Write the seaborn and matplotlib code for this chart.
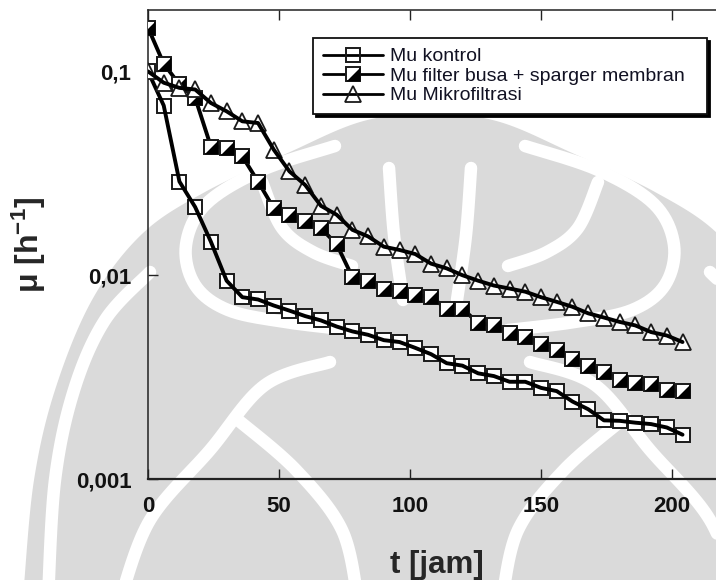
import numpy as np
import pandas as pd
import matplotlib
matplotlib.use("Agg")
import matplotlib.pyplot as plt
import matplotlib.ticker as mticker
from matplotlib.lines import Line2D
from matplotlib.legend_handler import HandlerTuple
from matplotlib.patches import Polygon
from matplotlib.transforms import Affine2D
import seaborn as sns

# Sampling times (hours)
t_jam = [0, 6, 12, 18, 24, 30, 36, 42, 48, 54, 60, 66, 72, 78, 84, 90, 96,
         102, 108, 114, 120, 126, 132, 138, 144, 150, 156, 162, 168, 174,
         180, 186, 192, 198, 204]

# Specific growth rate mu [1/h]
mu_kontrol = [0.100, 0.068, 0.0288, 0.0216, 0.0146, 0.0094, 0.0078, 0.0076,
              0.0071, 0.0067, 0.0063, 0.0060, 0.0056, 0.0053, 0.0051, 0.0048,
              0.0047, 0.0044, 0.0041, 0.0037, 0.0036, 0.0033, 0.0032, 0.0030,
              0.0030, 0.0028, 0.0027, 0.0024, 0.0022, 0.00194, 0.00193,
              0.00189, 0.00186, 0.00179, 0.00165]
mu_filter = [0.164, 0.109, 0.0863, 0.0742, 0.0428, 0.0421, 0.0383, 0.0288,
             0.0213, 0.0198, 0.0185, 0.0170, 0.0142, 0.0098, 0.0094, 0.0086,
             0.0084, 0.0080, 0.0078, 0.00686, 0.00686, 0.00582, 0.00567,
             0.0052, 0.00497, 0.00461, 0.0043, 0.00389, 0.0036, 0.00334,
             0.00306, 0.00295, 0.00293, 0.00273, 0.00271]
mu_mikro = [0.100, 0.088, 0.083, 0.0815, 0.070, 0.0637, 0.0569, 0.0558,
            0.0413, 0.0323, 0.0277, 0.0219, 0.0198, 0.0167, 0.0155, 0.0138,
            0.0133, 0.0127, 0.0114, 0.0108, 0.0100, 0.0094, 0.0089, 0.0086,
            0.0083, 0.0078, 0.0074, 0.0070, 0.0065, 0.0062, 0.0059, 0.00567,
            0.00526, 0.00506, 0.0047]

labels = ["Mu kontrol", "Mu filter busa + sparger membran", "Mu Mikrofiltrasi"]
y_ticks = [0.001, 0.01, 0.1]
x_ticks = [0, 50, 100, 150, 200]

df = pd.DataFrame({"t": t_jam, "kontrol": mu_kontrol,
                   "filter": mu_filter, "mikro": mu_mikro})

sns.set_theme(style="ticks")
plt.rcParams["font.family"] = ["Liberation Sans", "DejaVu Sans"]
plt.rcParams["mathtext.fontset"] = "custom"
plt.rcParams["mathtext.rm"] = "Liberation Sans:bold"
plt.rcParams["mathtext.it"] = "Liberation Sans:bold"
plt.rcParams["mathtext.bf"] = "Liberation Sans:bold"

W, H = 716, 580
fig = plt.figure(figsize=(W / 100, H / 100), dpi=100)
fig.patch.set_facecolor("white")

# ---- faint emblem in the page background (pixel coordinates, y down) ----
px = Affine2D().scale(1 / W, -1 / H).translate(0, 1) + fig.transFigure
WM_GRAY = "#dadada"
MID = 430


def smooth(pts, n=20):
    """Catmull-Rom curve through the given control points."""
    p = np.asarray(pts, float)
    p = np.vstack([p[0], p, p[-1]])
    out = []
    for i in range(1, len(p) - 2):
        p0, p1, p2, p3 = p[i - 1], p[i], p[i + 1], p[i + 2]
        for s in np.linspace(0, 1, n, endpoint=False):
            out.append(0.5 * ((2 * p1) + (-p0 + p2) * s
                              + (2 * p0 - 5 * p1 + 4 * p2 - p3) * s ** 2
                              + (-p0 + 3 * p1 - 3 * p2 + p3) * s ** 3))
    out.append(p[-2])
    return np.array(out)


def mirror(pts):
    return [(2 * MID - x, y) for x, y in pts]


dome_left = [(MID, 110), (360, 122), (290, 152), (205, 192), (142, 234),
             (92, 300), (55, 390), (34, 480), (24, 585)]
dome = np.vstack([smooth(dome_left[::-1]), smooth(mirror(dome_left))])
dome = np.vstack([dome, [(2 * MID - 24, 620), (24, 620)]])
fig.add_artist(Polygon(dome, closed=True, transform=px, facecolor=WM_GRAY,
                       edgecolor="none", zorder=-2))

white_bands = [
    [(150, 272), (105, 320), (74, 390), (55, 480), (48, 600)],
    [(335, 146), (262, 170), (206, 204), (186, 245), (195, 285),
     (228, 310), (285, 322), (352, 330)],
    [(262, 182), (282, 228), (313, 252), (352, 266)],
    [(389, 168), (394, 235), (403, 300)],
    [(238, 420), (296, 470), (342, 530), (358, 600)],
    [(120, 600), (150, 520), (210, 450), (265, 385), (330, 362)],
]
for band in white_bands:
    for pts in (band, mirror(band)):
        c = smooth(pts)
        fig.add_artist(Line2D(c[:, 0], c[:, 1], transform=px, color="white",
                              linewidth=9, solid_capstyle="round", zorder=-1))

# ---- chart (right frame edge sits just past the page edge) ----
ax = fig.add_axes([0.2067, 0.1741, 0.8073, 0.8086])
ax.patch.set_alpha(0)
ax.set_yscale("log")

edge = "#1a1a1a"
LW = 2.8
# lower-right half of a square, used to shade the filter-busa markers
half_tri = [(-1, -1), (1, -1), (1, 1), (-1, -1)]

# control: white squares with the curve drawn over them
sns.lineplot(data=df, x="t", y="kontrol", marker="s", markersize=10,
             markerfacecolor="white", markeredgecolor=edge,
             markeredgewidth=1.4, linestyle="", color="black",
             zorder=3, ax=ax, legend=False)
sns.lineplot(data=df, x="t", y="kontrol", color="black", linewidth=LW,
             zorder=3.1, ax=ax, legend=False)

# foam filter + membrane sparger: half-shaded squares on top of the curve
sns.lineplot(data=df, x="t", y="filter", marker="s", markersize=10,
             markerfacecolor="white", markeredgecolor=edge,
             markeredgewidth=1.4, color="black", linewidth=LW,
             zorder=4, ax=ax, legend=False)
sns.lineplot(data=df, x="t", y="filter", marker=half_tri, markersize=10,
             markerfacecolor="black", markeredgewidth=0, linestyle="",
             color="black", zorder=4.1, ax=ax, legend=False)

# microfiltration: white triangles with the curve drawn over them
sns.lineplot(data=df, x="t", y="mikro", marker="^", markersize=11,
             markerfacecolor="white", markeredgecolor=edge,
             markeredgewidth=1.3, linestyle="", color="black",
             zorder=5, ax=ax, legend=False)
sns.lineplot(data=df, x="t", y="mikro", color="black", linewidth=LW,
             zorder=5.1, ax=ax, legend=False)

ax.set_xlim(0, 220.6)
ax.set_ylim(0.001, 0.2)
ax.xaxis.set_major_locator(mticker.FixedLocator(x_ticks))
ax.yaxis.set_major_locator(mticker.FixedLocator(y_ticks))
ax.yaxis.set_minor_locator(mticker.NullLocator())
ax.yaxis.set_major_formatter(
    mticker.FuncFormatter(lambda v, p: f"{v:g}".replace(".", ",")))
ax.xaxis.set_major_formatter(mticker.FuncFormatter(lambda v, p: f"{v:g}"))

ax.tick_params(axis="both", which="major", direction="in", length=7.5,
               width=1.0, color="#222222", labelsize=16, pad=12,
               top=True, right=True)
for lab in ax.get_xticklabels() + ax.get_yticklabels():
    lab.set_fontweight("bold")
    lab.set_color("#111111")

for side in ["left", "right", "top", "bottom"]:
    ax.spines[side].set_color("#222222")
    ax.spines[side].set_linewidth(1.1)
ax.spines["bottom"].set_linewidth(1.6)

ax.set_xlabel("t [jam]", fontsize=22.5, fontweight="bold", labelpad=24)
ax.set_ylabel("μ [h$^{-1}$]", fontsize=23, fontweight="bold", labelpad=20)

# legend handles
h_k = Line2D([], [], color="black", lw=2.0, marker="s", markersize=10,
             markerfacecolor="none", markeredgecolor=edge, markeredgewidth=1.4)
h_f1 = Line2D([], [], color="black", lw=2.0, marker="s", markersize=10,
              markerfacecolor="white", markeredgecolor=edge,
              markeredgewidth=1.4)
h_f2 = Line2D([], [], linestyle="", marker=half_tri, markersize=10,
              markerfacecolor="black", markeredgewidth=0)
h_m = Line2D([], [], color="black", lw=2.0, marker="^", markersize=11,
             markerfacecolor="none", markeredgecolor=edge, markeredgewidth=1.3)

# legend box spans 313..707 px horizontally, top at 38 px
ax_w_px = 0.8073 * W
leg_x0 = (313 - 148) / ax_w_px
leg_w = (707 - 313) / ax_w_px
leg = ax.legend([h_k, (h_f1, h_f2), h_m], labels,
                handler_map={tuple: HandlerTuple(ndivide=1)},
                loc="upper left", bbox_to_anchor=(leg_x0, 0.70, leg_w, 0.2403),
                mode="expand", borderaxespad=0, fontsize=14.0,
                handlelength=3.1, handletextpad=0.35, labelspacing=0.1,
                borderpad=0.5, fancybox=False, framealpha=1,
                edgecolor="#111111", shadow={"color": "black", "alpha": 1})
leg.get_frame().set_linewidth(1.3)
for txt in leg.get_texts():
    txt.set_color("#111122")

fig.savefig("out.png", dpi=100)
